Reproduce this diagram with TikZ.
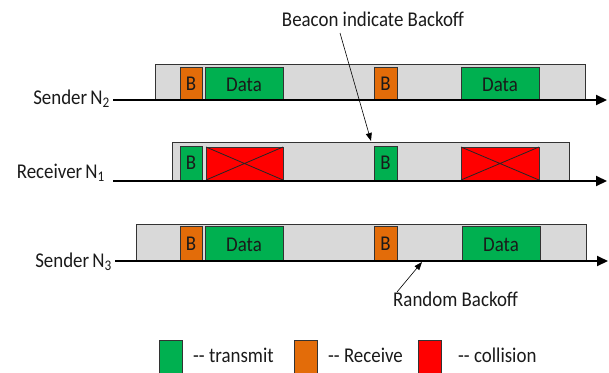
\documentclass[tikz,border=0pt]{standalone}
\usepackage{fontspec}
\setmainfont{Carlito}[FakeStretch=0.9]
\usetikzlibrary{arrows.meta}
\definecolor{tgray}{HTML}{D9D9D9}
\definecolor{tgreen}{HTML}{00B050}
\definecolor{torange}{HTML}{E36C09}
\definecolor{tred}{HTML}{FF0000}
\definecolor{ttext}{HTML}{1A1A1A}
\tikzset{
  box/.style={draw=black!80, line width=0.8pt, inner sep=0pt, outer sep=0pt, anchor=south west},
  graybox/.style={box, fill=tgray},
  greenbox/.style={box, fill=tgreen},
  orangebox/.style={box, fill=torange},
  redbox/.style={box, fill=tred},
  cross/.style={black!85, line width=0.8pt},
  timeline/.style={line width=2pt, -{Triangle[length=11pt,width=10pt]}},
  pointer/.style={line width=0.6pt, -{Triangle[length=8pt,width=6pt]}},
  lbl/.style={font=\fontsize{21}{23}\selectfont, inner sep=0pt, text=ttext},
}
\begin{document}
\begin{tikzpicture}[x=1pt,y=-1pt]
\useasboundingbox (0,0) rectangle (609,372);
\clip (0,0) rectangle (609,372);
% ---- Sender N2
\node[graybox, minimum width=430pt, minimum height=36pt] (g2) at (155,100) {};
\node[orangebox, minimum width=22pt, minimum height=33pt] (b2a) at (180,100) {};
\node[lbl] at (b2a.center) {B};
\node[greenbox, minimum width=78pt, minimum height=33pt] (d2a) at (205,100) {};
\node[lbl] at ([yshift=-1pt]d2a.center) {Data};
\node[orangebox, minimum width=23pt, minimum height=33pt] (b2b) at (374,100) {};
\node[lbl] at (b2b.center) {B};
\node[greenbox, minimum width=78pt, minimum height=33pt] (d2b) at (461,100) {};
\node[lbl] at ([yshift=-1pt]d2b.center) {Data};
\node[lbl, anchor=east] (l2) at (110,99) {Sender\hspace{0.15em}N\textsubscript{2}};
\coordinate (e2) at (607,100);
\draw[timeline] (113,100) -- (e2);
% ---- Receiver N1
\node[graybox, minimum width=397pt, minimum height=38pt] (g1) at (172,180) {};
\node[greenbox, minimum width=22pt, minimum height=34pt] (b1a) at (180,180) {};
\node[lbl] at (b1a.center) {B};
\node[redbox, minimum width=77pt, minimum height=33pt] (c1a) at (206,180) {};
\draw[cross] (c1a.north west) -- (c1a.south east) (c1a.south west) -- (c1a.north east);
\node[greenbox, minimum width=23pt, minimum height=34pt] (b1b) at (374,180) {};
\node[lbl] at (b1b.center) {B};
\node[redbox, minimum width=78pt, minimum height=33pt] (c1b) at (461,180) {};
\draw[cross] (c1b.north west) -- (c1b.south east) (c1b.south west) -- (c1b.north east);
\node[lbl, anchor=east] (l1) at (105,173) {Receiver\hspace{0.15em}N\textsubscript{1}};
\coordinate (e1) at (607,181);
\draw[timeline] (113,181) -- (e1);
% ---- Sender N3
\node[graybox, minimum width=450pt, minimum height=37pt] (g3) at (136,261) {};
\node[orangebox, minimum width=22pt, minimum height=35pt] (b3a) at (180,261) {};
\node[lbl] at (b3a.center) {B};
\node[greenbox, minimum width=78pt, minimum height=35pt] (d3a) at (205,261) {};
\node[lbl] at ([yshift=-1pt]d3a.center) {Data};
\node[orangebox, minimum width=23pt, minimum height=35pt] (b3b) at (374,261) {};
\node[lbl] at (b3b.center) {B};
\node[greenbox, minimum width=78pt, minimum height=35pt] (d3b) at (462,261) {};
\node[lbl] at ([yshift=-1pt]d3b.center) {Data};
\node[lbl, anchor=east] (l3) at (112,262) {Sender\hspace{0.15em}N\textsubscript{3}};
\coordinate (e3) at (608,261);
\draw[timeline] (115,261) -- (e3);
% ---- annotations
\node[lbl] (beacon) at (373,19) {Beacon indicate Backoff};
\coordinate (btip) at (371,141);
\draw[pointer] (340,33) -- (btip);
\node[lbl, anchor=west] (rb) at (393,299) {Random Backoff};
\coordinate (rtip) at (422,262);
\draw[pointer] (397,292) -- (rtip);
% ---- legend
\node[greenbox, anchor=north west, minimum width=23pt, minimum height=45pt] (lg) at (159,340) {};
\node[lbl, anchor=west] (tg) at (193,355) {-{}- transmit};
\node[orangebox, anchor=north west, minimum width=23pt, minimum height=45pt] (lo) at (294,340) {};
\node[lbl, anchor=west] (to) at (328,355) {-{}- Receive};
\node[redbox, anchor=north west, minimum width=23pt, minimum height=45pt] (lr) at (418,340) {};
\node[lbl, anchor=west] (tr) at (458,355) {-{}- collision};
\end{tikzpicture}
\end{document}
